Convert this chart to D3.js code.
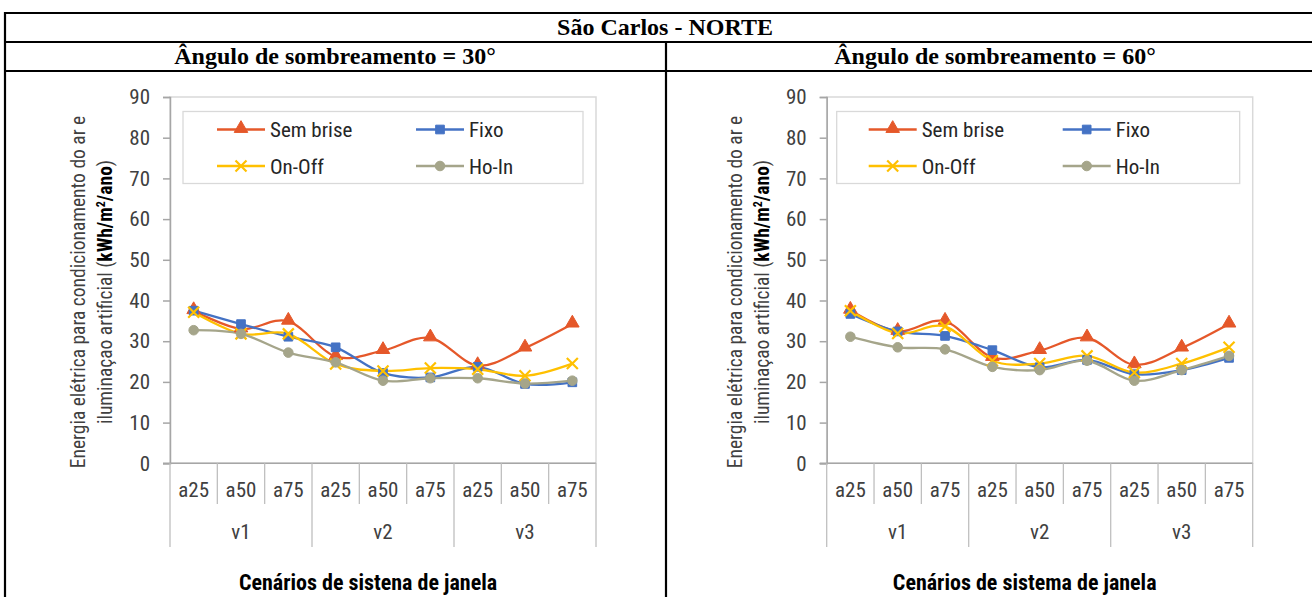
<!DOCTYPE html>
<html>
<head>
<meta charset="utf-8">
<script src="https://cdn.jsdelivr.net/npm/d3@7"></script>
<style>
  body { margin:0; background:#fff; }
  svg { display:block; }
  .narrow { font-family:"Liberation Sans Narrow","Arial Narrow","Roboto Condensed",sans-serif; }
  .serif { font-family:"Liberation Serif","Times New Roman",serif; font-weight:bold; }
</style>
</head>
<body>
<svg id="chart"></svg>
<script>
// data
var categories = ["a25","a50","a75","a25","a50","a75","a25","a50","a75"];
var groups = ["v1","v2","v3"];
var yTicks = [0,10,20,30,40,50,60,70,80,90];
var seriesNames = ["Sem brise","Fixo","On-Off","Ho-In"];

var semBrise30 = [37.5,33.0,34.9,26.2,27.7,30.8,24.0,28.3,34.2];
var fixo30     = [37.5,34.2,31.1,28.5,22.2,21.1,23.7,19.5,19.9];
var onOff30    = [37.1,31.8,31.8,24.4,22.7,23.4,23.1,21.5,24.5];
var hoIn30     = [32.7,31.8,27.2,24.8,20.3,20.9,20.9,19.6,20.3];

var semBrise60 = [37.6,32.4,34.9,26.0,27.7,30.8,24.2,28.3,34.2];
var fixo60     = [36.7,32.4,31.3,27.8,23.6,25.4,21.9,22.9,25.9];
var onOff60    = [37.5,31.9,33.6,25.2,24.5,26.4,22.3,24.5,28.5];
var hoIn60     = [31.1,28.5,28.0,23.7,22.9,25.2,20.3,22.9,26.4];

var colors = ["#e5582a","#4472c4","#ffc000","#a5a58a"];
var markers = ["triangle","square","x","circle"];

var svg = d3.select("#chart").attr("width",1312).attr("height",597);

// table frame
var W = 1312;
svg.append("line").attr("x1",5).attr("x2",W).attr("y1",13).attr("y2",13)
    .attr("stroke","#000").attr("stroke-width",2.2);
svg.append("line").attr("x1",5).attr("x2",W).attr("y1",42).attr("y2",42)
    .attr("stroke","#000").attr("stroke-width",2.2);
svg.append("line").attr("x1",5).attr("x2",W).attr("y1",71).attr("y2",71)
    .attr("stroke","#000").attr("stroke-width",2.2);
svg.append("line").attr("x1",5).attr("x2",5).attr("y1",12).attr("y2",597)
    .attr("stroke","#000").attr("stroke-width",2.2);
svg.append("line").attr("x1",666).attr("x2",666).attr("y1",42).attr("y2",597)
    .attr("stroke","#000").attr("stroke-width",2.2);

svg.append("text").attr("class","serif").attr("x",665).attr("y",35)
    .attr("text-anchor","middle").attr("font-size",24).text("São Carlos - NORTE");
svg.append("text").attr("class","serif").attr("x",335).attr("y",64)
    .attr("text-anchor","middle").attr("font-size",24).text("Ângulo de sombreamento = 30°");
svg.append("text").attr("class","serif").attr("x",995).attr("y",64)
    .attr("text-anchor","middle").attr("font-size",24).text("Ângulo de sombreamento = 60°");

var drawPanel = function(cfg)
{
    var g = svg.append("g").attr("class","narrow");

    var xScale = d3.scaleBand()
        .domain(d3.range(categories.length))
        .range([cfg.left, cfg.left+426])
        .padding(0);

    var yScale = d3.scaleLinear()
        .domain([0,90])
        .range([463.3,97]);

    // plot area border
    g.append("rect")
        .attr("x",cfg.left).attr("y",yScale(90))
        .attr("width",426).attr("height",yScale(0)-yScale(90))
        .attr("fill","none").attr("stroke","#d9d9d9").attr("stroke-width",1.5);

    // y axis
    var yAxis = d3.axisLeft(yScale).tickValues(yTicks).tickSize(7).tickPadding(13);
    var ya = g.append("g")
        .attr("transform","translate("+cfg.left+",0)")
        .call(yAxis);
    ya.select(".domain").attr("stroke","#a6a6a6").attr("stroke-width",1.5);
    ya.selectAll(".tick line").attr("stroke","#a6a6a6").attr("stroke-width",1.5);
    ya.selectAll(".tick text")
        .attr("font-family",null).attr("font-size",21).attr("fill","#404040");
    ya.attr("font-family",null).attr("font-size",null);

    // x axis, two levels
    var y0 = yScale(0);
    g.append("line")
        .attr("x1",cfg.left-7).attr("x2",cfg.left+426)
        .attr("y1",y0).attr("y2",y0)
        .attr("stroke","#a6a6a6").attr("stroke-width",1.5);
    categories.forEach(function(c,i)
    {
        var isGroupEdge = (i%3==0);
        g.append("line")
            .attr("x1",xScale(i)).attr("x2",xScale(i))
            .attr("y1",y0).attr("y2",isGroupEdge ? 547 : 504)
            .attr("stroke","#bfbfbf").attr("stroke-width",1.3);
        g.append("text")
            .attr("x",xScale(i)+xScale.bandwidth()/2).attr("y",497)
            .attr("text-anchor","middle").attr("font-size",21).attr("fill","#404040")
            .text(c);
    });
    g.append("line")
        .attr("x1",cfg.left+426).attr("x2",cfg.left+426)
        .attr("y1",y0).attr("y2",547)
        .attr("stroke","#bfbfbf").attr("stroke-width",1.3);
    groups.forEach(function(v,j)
    {
        g.append("text")
            .attr("x",xScale(j*3+1)+xScale.bandwidth()/2).attr("y",539)
            .attr("text-anchor","middle").attr("font-size",21).attr("fill","#404040")
            .text(v);
    });

    g.append("text")
        .attr("x",cfg.left+198).attr("y",590)
        .attr("text-anchor","middle").attr("font-size",22).attr("font-weight","bold")
        .attr("fill","#000").text(cfg.xTitle);

    // y title, two lines
    var yt = g.append("g")
        .attr("transform","translate("+(cfg.left-85)+",292) rotate(-90)");
    yt.append("text").attr("x",0).attr("y",0)
        .attr("text-anchor","middle").attr("font-size",19.5).attr("fill","#404040")
        .text("Energia elétrica para condicionamento do ar e");
    var t2 = yt.append("text").attr("x",0).attr("y",27)
        .attr("text-anchor","middle").attr("font-size",19.5).attr("fill","#404040");
    t2.append("tspan").text("iluminaçao artificial   (");
    t2.append("tspan").attr("font-weight","bold").attr("fill","#000").text("kWh/m");
    t2.append("tspan").attr("font-weight","bold").attr("fill","#000")
        .attr("font-size",12).attr("dy",-7).text("2");
    t2.append("tspan").attr("font-weight","bold").attr("fill","#000")
        .attr("dy",7).text("/ano");
    t2.append("tspan").text(")");

    // legend
    g.append("rect")
        .attr("x",cfg.left+cfg.legX).attr("y",111.5)
        .attr("width",413-cfg.legX).attr("height",72)
        .attr("fill","#fff").attr("stroke","#d9d9d9").attr("stroke-width",1.3);

    // lines
    var lineGen = d3.line()
        .x(function(d,i){ return xScale(i)+xScale.bandwidth()/2; })
        .y(function(d){ return yScale(d); })
        .curve(d3.curveCatmullRom.alpha(0));

    cfg.series.forEach(function(vals,k)
    {
        g.append("path")
            .datum(vals)
            .attr("fill","none")
            .attr("stroke",colors[k])
            .attr("stroke-width",2.3)
            .attr("d",lineGen);
    });
    cfg.series.forEach(function(vals,k)
    {
        vals.forEach(function(v,i)
        {
            drawMarker(g, markers[k], xScale(i)+xScale.bandwidth()/2, yScale(v), colors[k]);
        });
    });

    // legend entries
    seriesNames.forEach(function(name,k)
    {
        var col = k%2, row = Math.floor(k/2);
        var lx = cfg.left + (col==0 ? cfg.lineX1 : cfg.lineX2);
        var ly = row==0 ? 129.5 : 166;
        g.append("line")
            .attr("x1",lx).attr("x2",lx+48).attr("y1",ly).attr("y2",ly)
            .attr("stroke",colors[k]).attr("stroke-width",2.3);
        drawMarker(g, markers[k], lx+24, ly, colors[k]);
        g.append("text")
            .attr("x",lx+53).attr("y",ly+7.5)
            .attr("font-size",21).attr("fill","#262626")
            .text(name);
    });
}

var drawMarker = function(g, type, x, y, color)
{
    if (type=="x")
    {
        g.append("path")
            .attr("d","M"+(x-5.5)+","+(y-5.5)+"L"+(x+5.5)+","+(y+5.5)+
                      "M"+(x+5.5)+","+(y-5.5)+"L"+(x-5.5)+","+(y+5.5))
            .attr("stroke",color).attr("stroke-width",2.2).attr("fill","none");
        return;
    }
    var sym = type=="triangle" ? d3.symbolTriangle : (type=="square" ? d3.symbolSquare : d3.symbolCircle);
    var size = type=="triangle" ? 80 : (type=="square" ? 75 : 72);
    g.append("path")
        .attr("d",d3.symbol().type(sym).size(size)())
        .attr("transform","translate("+x+","+(type=="triangle" ? y-1 : y)+")")
        .attr("fill",color).attr("stroke",color).attr("stroke-width",1);
}

drawPanel({
    left:170, legX:13, lineX1:47, lineX2:246,
    xTitle:"Cenários de sistena de janela",
    series:[semBrise30,fixo30,onOff30,hoIn30]
});
drawPanel({
    left:826.7, legX:10, lineX1:42, lineX2:236,
    xTitle:"Cenários de sistema de janela",
    series:[semBrise60,fixo60,onOff60,hoIn60]
});
</script>
</body>
</html>
